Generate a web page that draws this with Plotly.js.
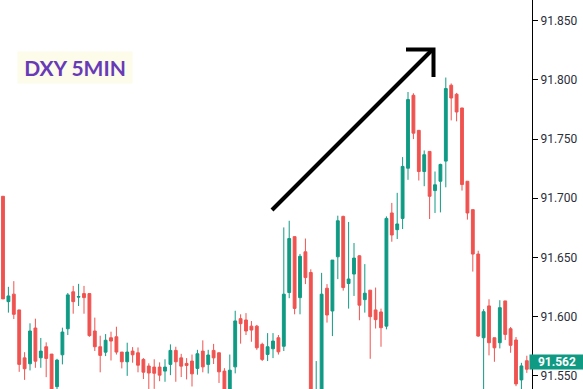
<!DOCTYPE html>
<html>
<head>
<meta charset="utf-8">
<script src="https://cdn.plot.ly/plotly-3.0.1.min.js"></script>
<style>html,body{margin:0;padding:0;background:#fff;}#chart{width:583px;height:389px;}</style>
</head>
<body>
<div id="chart"></div>
<script>
// 5-minute DXY bars
var openP = [91.7017,91.6127,91.619,91.6057,91.5652,91.5602,91.5904,91.5653,91.5746,91.5684,
91.5409,91.5678,91.5898,91.621,91.6165,91.6195,91.6195,91.5879,91.5746,91.570,
91.5822,91.583,91.5701,91.5619,91.5709,91.5695,91.5639,91.5583,91.5574,91.5574,
91.554,91.5597,91.5715,91.5652,91.5605,91.5625,91.5563,91.5709,91.5597,91.5715,
91.5695,91.554,91.535,91.5576,91.5983,91.5972,91.592,91.592,91.5766,91.5681,
91.5729,91.5822,91.575,91.6204,91.6676,91.6161,91.6548,91.6373,91.52,91.532,
91.624,91.6048,91.6506,91.6847,91.628,91.636,91.6514,91.6144,91.6224,91.6057,
91.604,91.592,91.6876,91.6735,91.683,91.7254,91.787,91.7574,91.7226,91.7396,
91.7065,91.7144,91.7314,91.7955,91.7879,91.7763,91.7144,91.6904,91.6529,91.5822,
91.6091,91.5822,91.578,91.6133,91.5898,91.5803,91.5466,91.5628];
var highP = [91.7017,91.6252,91.630,91.6057,91.570,91.5944,91.5983,91.582,91.5783,91.5684,
91.5644,91.5907,91.620,91.626,91.6277,91.626,91.6195,91.5992,91.5839,91.5853,
91.5873,91.5915,91.5701,91.578,91.5743,91.574,91.565,91.5606,91.564,91.5614,
91.564,91.5766,91.5746,91.5686,91.565,91.568,91.572,91.580,91.572,91.577,
91.5695,91.5565,91.568,91.605,91.602,91.603,91.5963,91.593,91.578,91.5861,
91.5861,91.5845,91.6754,91.681,91.6676,91.653,91.666,91.640,91.5625,91.637,
91.6275,91.6478,91.6853,91.6853,91.680,91.6622,91.652,91.6444,91.6224,91.6246,
91.6068,91.6847,91.6961,91.7046,91.7348,91.7898,91.7887,91.7574,91.7404,91.7396,
91.7226,91.7292,91.802,91.797,91.789,91.7763,91.7144,91.6904,91.6557,91.6063,
91.6147,91.5822,91.6139,91.6133,91.5913,91.5828,91.561,91.567];
var lowP = [91.615,91.6034,91.598,91.5534,91.5466,91.5546,91.5568,91.5568,91.5489,91.530,
91.535,91.5597,91.5845,91.6025,91.609,91.6025,91.583,91.571,91.553,91.5667,
91.563,91.568,91.5563,91.550,91.5611,91.553,91.5473,91.5386,91.539,91.5455,
91.545,91.5506,91.545,91.549,91.547,91.541,91.551,91.553,91.552,91.560,
91.544,91.535,91.53,91.5521,91.5772,91.5845,91.5788,91.572,91.5625,91.5625,
91.565,91.568,91.571,91.6156,91.602,91.602,91.6275,91.53,91.515,91.53,
91.595,91.5836,91.6317,91.622,91.6068,91.6175,91.597,91.6034,91.5644,91.590,
91.5746,91.5893,91.6633,91.6656,91.674,91.7156,91.75,91.715,91.7102,91.6825,
91.6876,91.6881,91.7093,91.7658,91.765,91.7065,91.682,91.6381,91.583,91.52,
91.5673,91.5619,91.5732,91.5803,91.5695,91.5413,91.53,91.5525];
var closeP = [91.615,91.6175,91.602,91.5597,91.556,91.5879,91.5624,91.5709,91.5647,91.535,
91.5633,91.587,91.6184,91.6127,91.617,91.6161,91.584,91.5746,91.5673,91.5801,
91.5794,91.5701,91.5619,91.5701,91.5678,91.559,91.5531,91.5524,91.5522,91.5506,
91.5574,91.5715,91.5619,91.5582,91.5588,91.5517,91.5687,91.5576,91.5676,91.5652,
91.5534,91.5387,91.5548,91.5964,91.5941,91.5879,91.5887,91.5737,91.5639,91.5746,
91.5794,91.5703,91.619,91.666,91.607,91.651,91.633,91.535,91.535,91.619,
91.6014,91.6478,91.681,91.6246,91.6318,91.6495,91.6097,91.6198,91.600,91.5975,
91.5907,91.683,91.669,91.6783,91.7269,91.7834,91.755,91.7226,91.7368,91.7017,
91.7114,91.7286,91.7927,91.7847,91.7729,91.7116,91.6876,91.6529,91.5836,91.6042,
91.578,91.5737,91.6076,91.585,91.5758,91.5432,91.5584,91.5556];
var tickVals = [91.55,91.60,91.65,91.70,91.75,91.80,91.85];
var tickText = ["91.550","91.600","91.650","91.700","91.750","91.800","91.850"];
var lastPrice = [91.562];
var lastPriceText = ["91.562"];
var chartTitle = "DXY 5MIN";

var xIdx = openP.map(function(_, i){ return i; });
var UP = "#0f9a84", DOWN = "#ef5350";

var trace = {
  type: "candlestick",
  x: xIdx, open: openP, high: highP, low: lowP, close: closeP,
  increasing: {line: {color: UP, width: 1}, fillcolor: UP},
  decreasing: {line: {color: DOWN, width: 1}, fillcolor: DOWN},
  whiskerwidth: 0,
  hoverinfo: "skip",
  showlegend: false
};

var W = 532, H = 389;
function px(x){ return x / W; }
function py(y){ return 1 - y / H; }

var layout = {
  width: 583, height: 389,
  margin: {l: 0, r: 51, t: 0, b: 0, pad: 0},
  paper_bgcolor: "#ffffff", plot_bgcolor: "#ffffff",
  font: {family: "Roboto, 'Open Sans', sans-serif", size: 12, color: "#2a2e39"},
  showlegend: false,
  boxgap: 0.25,
  xaxis: {range: [-0.556, 97.96], showgrid: false, zeroline: false, showticklabels: false,
          ticks: "", showline: false, rangeslider: {visible: false}, fixedrange: true},
  yaxis: {side: "right", range: [91.5389, 91.8675], tickvals: tickVals, ticktext: tickText,
          showgrid: false, zeroline: false, showline: true, linecolor: "#000000", linewidth: 1,
          ticks: "outside", ticklen: 5, tickcolor: "#000000", tickwidth: 1,
          tickfont: {family: "Roboto, sans-serif", size: 12, color: "#2a2e39"}, fixedrange: true},
  shapes: [
    {type: "line", xref: "paper", yref: "paper", x0: px(272), y0: py(210), x1: px(432), y1: py(50),
     line: {color: "#000000", width: 4}},
    {type: "path", xref: "paper", yref: "paper",
     path: "M " + px(406) + " " + py(49.5) + " L " + px(433.5) + " " + py(49.5) + " L " + px(433.5) + " " + py(77),
     line: {color: "#000000", width: 4}}
  ],
  annotations: [
    {xref: "paper", yref: "paper", x: px(75), y: py(67.5), xanchor: "center", yanchor: "middle",
     text: "<b>" + chartTitle + "</b>", showarrow: false, width: 108, height: 25,
     font: {family: "Lato, 'Open Sans', sans-serif", size: 21, color: "#673ab7"},
     bgcolor: "#fdfbea", borderpad: 3},
    {xref: "paper", yref: "y", x: 529 / W, y: lastPrice[0], xanchor: "left", yanchor: "middle",
     text: "<b>" + lastPriceText[0] + "</b>", showarrow: false, width: 54, height: 14, borderpad: 0,
     align: "center", font: {family: "Roboto, sans-serif", size: 12, color: "#ffffff"},
     bgcolor: "#0f9a84"}
  ]
};

Plotly.newPlot("chart", [trace], layout, {staticPlot: true, displayModeBar: false});
</script>
</body>
</html>
